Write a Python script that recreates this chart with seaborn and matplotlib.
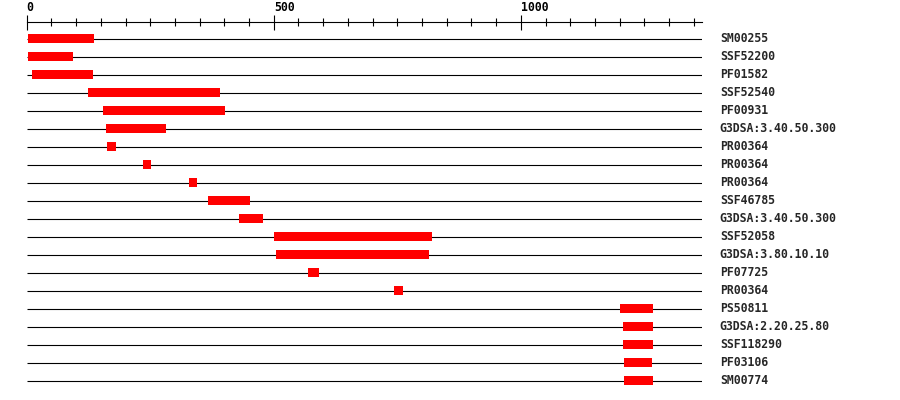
import numpy as np
import pandas as pd
import matplotlib
matplotlib.use("Agg")
import matplotlib.pyplot as plt
from matplotlib.ticker import MultipleLocator
import seaborn as sns

# protein length and domain hits (start, end in residues)
seq_len = 1366
names = ["SM00255", "SSF52200", "PF01582", "SSF52540", "PF00931",
         "G3DSA:3.40.50.300", "PR00364", "PR00364", "PR00364", "SSF46785",
         "G3DSA:3.40.50.300", "SSF52058", "G3DSA:3.80.10.10", "PF07725", "PR00364",
         "PS50811", "G3DSA:2.20.25.80", "SSF118290", "PF03106", "SM00774"]
starts = [3, 3, 11, 124, 154, 161, 163, 235, 328, 367,
          430, 500, 504, 569, 743, 1200, 1206, 1206, 1208, 1208]
ends = [136, 94, 134, 391, 401, 282, 181, 251, 344, 452,
        478, 820, 814, 591, 761, 1267, 1267, 1267, 1265, 1267]

df = pd.DataFrame({"row": np.arange(len(names)), "name": names,
                   "start": starts, "end": ends})
df["length"] = df["end"] - df["start"]

sns.set_style("white")
plt.rcParams["font.family"] = ["DejaVu Sans Mono"]

fig = plt.figure(figsize=(9, 4), dpi=100)
ax = fig.add_axes([26.7 / 900, 10 / 400, 675 / 900, 360 / 400])

# sequence lines behind the domains
ax.hlines(df["row"], 0, seq_len, color="black", lw=0.8, zorder=1)

sns.barplot(data=df, x="length", y="row", orient="y", left=df["start"],
            color="#ff0000", saturation=1, width=0.5, errorbar=None,
            linewidth=0, ax=ax, zorder=2)

for r, n in zip(df["row"], df["name"]):
    ax.annotate(n, (seq_len, r), xytext=(13, 0), textcoords="offset points",
                va="center", ha="left", fontsize=8.3, fontweight="bold",
                annotation_clip=False)

ax.set_xlim(0, seq_len)
ax.set_ylim(len(names) - 0.5, -0.5)
ax.set_xlabel("")
ax.set_ylabel("")
ax.set_yticks([])

# ruler on top
for s in ["bottom", "left", "right"]:
    ax.spines[s].set_visible(False)
ax.spines["top"].set_position(("outward", 6))
ax.spines["top"].set_linewidth(0.8)
ax.spines["top"].set_color("black")
ax.xaxis.tick_top()
ax.xaxis.set_major_locator(MultipleLocator(500))
ax.xaxis.set_minor_locator(MultipleLocator(50))
ax.tick_params(axis="x", which="major", direction="inout", length=10.8,
               width=0.8, pad=0, labelsize=8.3, colors="black")
ax.tick_params(axis="x", which="minor", direction="inout", length=5.8,
               width=0.8, colors="black")
for lab in ax.get_xticklabels():
    lab.set_ha("left")
    lab.set_fontweight("bold")

fig.savefig("out.png", dpi=100)
